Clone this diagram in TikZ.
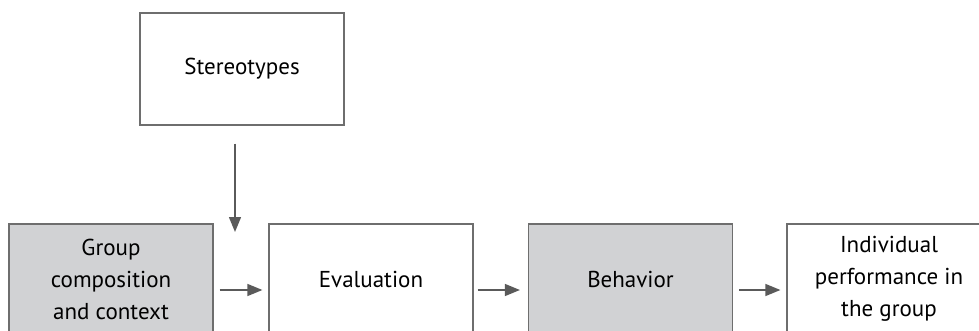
\documentclass[tikz,border=0pt]{standalone}
\usepackage{fontspec}
\setmainfont{PT Sans}
\usepackage{tikz}
\usetikzlibrary{positioning,calc,arrows.meta}
\definecolor{boxgray}{HTML}{D1D2D4}
\definecolor{linegray}{HTML}{6E6E6E}
\definecolor{arrgray}{HTML}{5A5A5A}
\tikzset{
  pbox/.style    = {draw=linegray, line width=1.2pt, fill=white, minimum width=204pt,
                    minimum height=110pt, inner sep=2pt, align=center,
                    font=\fontsize{23}{32}\selectfont},
  gpbox/.style   = {pbox, fill=boxgray},
  tbox/.style    = {pbox, minimum height=112pt},
  flow/.style    = {draw=arrgray, line width=1.4pt,
                    -{Triangle[length=15pt,width=12pt]}},
}
\begin{document}
\begin{tikzpicture}[x=1pt,y=-1pt]
  \useasboundingbox (0,0) rectangle (979,331);
  \clip (0,0) rectangle (979,331);
  % top
  \node[tbox] (stereo) at (242,69) {Stereotypes};
  % row
  \node[gpbox] (group) at (111,279) {Group\\composition\\and context};
  \node[pbox]  (eval)  at (371,279) {Evaluation};
  \node[gpbox] (behav) at (630.5,279) {Behavior};
  \node[pbox]  (indiv) at (889,279) {Individual\\performance in\\the group};
  \coordinate (hit) at (235,232);
  \draw[flow, shorten <=18pt] (stereo.south -| hit) -- (hit);
  \draw[flow, shorten <=6pt, shorten >=6pt] (group.east |- 0,290) -- (eval.west |- 0,290);
  \draw[flow, shorten <=4pt, shorten >=8pt] (eval.east |- 0,290) -- (behav.west |- 0,290);
  \draw[flow, shorten <=6pt, shorten >=6pt] (behav.east |- 0,290) -- (indiv.west |- 0,290);
\end{tikzpicture}
\end{document}
